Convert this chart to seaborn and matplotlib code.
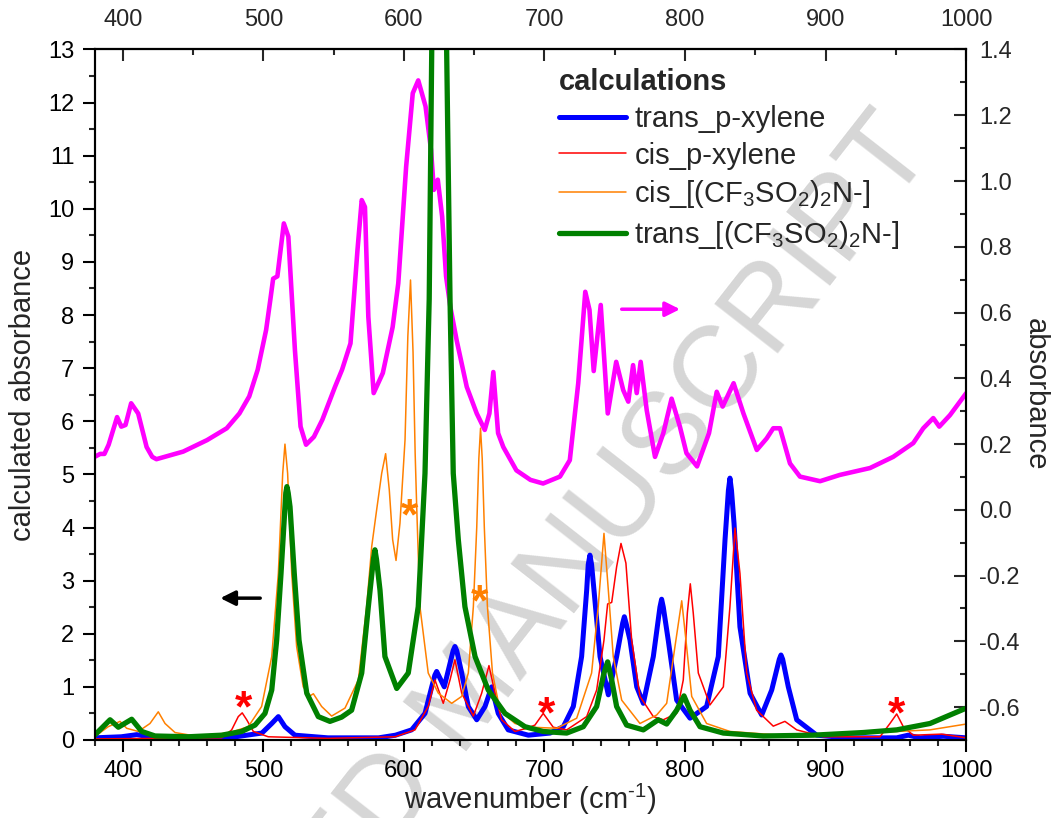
import matplotlib
matplotlib.use("Agg")
import matplotlib.pyplot as plt
import seaborn as sns
import pandas as pd
from matplotlib.ticker import MultipleLocator, FixedLocator

# ---------------- data ----------------
# trans_p-xylene (left axis, calculated absorbance)
blue_x = [380, 399, 410, 423, 475, 499, 506, 510.7, 515.4, 522.5,
          546, 582, 594, 605.5, 615, 619.8, 622, 623.3, 624.6, 628.7,
          635, 636.3, 637.6, 641.1, 645.8, 651.8, 657.7, 662.4, 667.1, 674.2,
          688.5, 704, 713.4, 720.5, 726.4, 730, 731.1, 732.3, 733.5, 735.2,
          739.5, 745.4, 751.3, 755.6, 756.8, 758, 760.8, 765.6, 770.3, 777.4,
          782.1, 783.3, 784.5, 788, 794, 803.5, 815.3, 823.6, 828.4, 830.8,
          831.9, 833, 834.8, 839, 846.2, 854.5, 861.6, 867, 868.2, 869.4,
          873.4, 879.4, 893.6, 915, 950.5, 958.7, 967, 983.6, 1000]
blue_y = [0.04, 0.06, 0.10, 0.04, 0.04, 0.13, 0.31, 0.44, 0.25, 0.09,
          0.04, 0.04, 0.09, 0.19, 0.50, 1.00, 1.22, 1.29, 1.22, 1.00,
          1.68, 1.76, 1.68, 1.26, 0.63, 0.38, 0.63, 1.00, 0.50, 0.19,
          0.09, 0.13, 0.25, 0.63, 1.57, 2.82, 3.30, 3.48, 3.30, 2.82,
          1.57, 0.85, 1.57, 2.20, 2.32, 2.20, 1.88, 1.00, 0.69, 1.57,
          2.50, 2.65, 2.50, 1.88, 0.75, 0.41, 0.63, 1.57, 3.77, 4.70,
          4.93, 4.70, 4.08, 2.13, 0.88, 0.47, 0.94, 1.52, 1.60, 1.52,
          1.00, 0.38, 0.09, 0.04, 0.04, 0.09, 0.04, 0.07, 0.04]

# cis_p-xylene
red_x = [380, 470.4, 477.5, 482.2, 485, 488.2, 492.9, 503.5, 546, 593.7,
         607.9, 617.3, 622.1, 628, 632.8, 636.3, 641.1, 649.4, 655.3, 660.5,
         664.8, 669.5, 679, 687.3, 693.2, 699.1, 706.2, 715.8, 730, 737.1,
         742.3, 744.9, 747.8, 751.3, 754.4, 757.9, 762, 767.9, 777.4, 784.5,
         794, 798.7, 801.6, 803.7, 805.8, 809.4, 817.7, 827.2, 831.9, 835.5,
         839, 843.8, 850.9, 862.7, 871, 879.4, 898.3, 938.6, 945.7, 950.5,
         955.2, 962.3, 982.5, 1000]
red_y = [0.02, 0.04, 0.19, 0.44, 0.51, 0.38, 0.16, 0.06, 0.03, 0.06,
         0.19, 0.63, 1.13, 0.69, 1.13, 1.51, 0.88, 0.45, 0.88, 1.40,
         0.88, 0.38, 0.16, 0.22, 0.28, 0.50, 0.24, 0.19, 0.44, 0.94,
         1.88, 2.56, 2.59, 3.26, 3.70, 3.33, 1.88, 0.82, 0.44, 0.38,
         0.50, 1.13, 2.39, 2.94, 2.39, 1.26, 0.66, 1.00, 2.51, 3.99,
         3.14, 1.26, 0.56, 0.26, 0.35, 0.19, 0.06, 0.06, 0.31, 0.49,
         0.25, 0.09, 0.11, 0.04]

# cis_[(CF3SO2)2N-]
orange_x = [380, 389.7, 398.1, 402.8, 411.1, 419.4, 425.3, 430.1, 437.2, 451.4,
            475.1, 489.3, 498.8, 506, 510.7, 513.8, 515.4, 517.3, 520.2, 523.7,
            528.4, 533.2, 535.6, 541.5, 548.6, 558.1, 567.6, 573.5, 577.1, 580.6,
            584.2, 587, 589.6, 592, 594.4, 597.2, 600.8, 602.8, 604.7, 606.5,
            608, 609.1, 611.4, 617.3, 624.5, 634, 641.1, 645.8, 649.4, 651.8,
            653.3, 654.5, 655.7, 657.2, 659.4, 663, 668.3, 679, 690.9, 708.7,
            722.9, 733.5, 738.2, 742.3, 745.4, 748.9, 754.9, 767.9, 779.8, 786.9,
            792.8, 797.6, 800.6, 804.7, 815.3, 831.9, 867.5, 926.7, 974.2, 1000]
orange_y = [0.06, 0.25, 0.35, 0.22, 0.16, 0.31, 0.53, 0.31, 0.14, 0.075,
            0.13, 0.25, 0.63, 1.57, 3.14, 5.02, 5.57, 5.02, 3.14, 1.76,
            1.00, 0.83, 0.87, 0.63, 0.45, 0.60, 1.13, 2.51, 3.64, 4.33,
            5.02, 5.39, 4.71, 3.77, 3.38, 4.08, 5.65, 7.60, 8.66, 7.30,
            5.40, 4.39, 2.51, 1.26, 0.88, 0.69, 0.82, 1.26, 2.51, 4.00,
            5.30, 5.87, 5.30, 4.00, 2.51, 1.26, 0.56, 0.31, 0.24, 0.22,
            0.41, 1.26, 2.51, 3.89, 2.82, 1.57, 0.75, 0.31, 0.47, 0.69,
            1.76, 2.62, 1.88, 0.82, 0.31, 0.16, 0.09, 0.13, 0.19, 0.30]

# trans_[(CF3SO2)2N-]  (the 625 cm-1 band runs far above the frame)
green_x = [380, 391, 396.9, 406.4, 413.5, 423, 446.6, 470.4, 484.6, 494.1,
           501.2, 506, 509.5, 512.6, 515.4, 516, 516.8, 517.7, 519, 522,
           525.4, 530.9, 539.1, 547.4, 555.7, 562.8, 570, 574.7, 578.3, 579.4,
           580.5, 583, 586.5, 594.9, 603.1, 610.2, 615, 618, 619.8, 622,
           625, 628, 630.4, 632.8, 635.1, 638.7, 643.4, 650.6, 660, 671.9,
           686.1, 699, 715.8, 727.6, 737.1, 742.3, 744.9, 747.8, 751.3, 758.4,
           770.3, 780.9, 786.9, 794, 799.2, 803.5, 810.6, 827.2, 855.6, 891.2,
           926.7, 950.5, 974.2, 1000]
green_y = [0.09, 0.38, 0.24, 0.39, 0.16, 0.075, 0.06, 0.09, 0.16, 0.28,
           0.50, 0.94, 1.88, 3.14, 4.39, 4.65, 4.77, 4.65, 4.39, 3.14,
           1.88, 0.88, 0.44, 0.35, 0.43, 0.56, 1.26, 2.51, 3.40, 3.58,
           3.40, 2.82, 1.57, 0.97, 1.26, 2.51, 5.02, 8.30, 13.0, 20.0,
           30.0, 20.0, 13.0, 8.30, 5.02, 3.77, 2.51, 1.57, 0.94, 0.50,
           0.25, 0.16, 0.13, 0.25, 0.63, 1.26, 1.47, 1.13, 0.63, 0.28,
           0.19, 0.38, 0.30, 0.56, 0.83, 0.56, 0.25, 0.13, 0.075, 0.09,
           0.14, 0.19, 0.31, 0.60]

# measured spectrum (right axis, absorbance)
meas_x = [380, 384, 387, 390, 396, 399, 402, 406, 411, 417,
          421, 424, 443, 460, 474, 483, 490, 496, 502, 505,
          507, 510, 514.6, 517.8, 522.5, 526.5, 530.4, 536, 542, 551,
          556, 562, 567, 570, 572.3, 574.7, 578.5, 585, 592, 596,
          601.6, 606.3, 610.2, 615.4, 619.3, 621.3, 624.1, 627.2, 630, 633,
          637.5, 644.7, 651.8, 657.5, 660.8, 663.6, 667, 670.7, 680, 690,
          699, 711, 718, 724, 729, 732, 735, 740, 745, 751,
          756, 759.6, 763, 765.6, 768.4, 772.7, 778.6, 784.5, 790.4, 796.3,
          801, 808.5, 817, 822.5, 826.7, 834.5, 841.5, 851, 858, 862.7,
          867.5, 874.6, 881.7, 896, 910, 931.5, 948, 962.3, 969.4, 976.5,
          980.8, 988.4, 1000]
meas_y = [0.161, 0.170, 0.170, 0.198, 0.282, 0.253, 0.258, 0.324, 0.293, 0.191,
          0.161, 0.154, 0.177, 0.212, 0.248, 0.293, 0.345, 0.426, 0.547, 0.639,
          0.703, 0.710, 0.871, 0.831, 0.485, 0.253, 0.198, 0.222, 0.274, 0.374,
          0.426, 0.506, 0.791, 0.942, 0.921, 0.587, 0.355, 0.416, 0.556, 0.689,
          1.044, 1.267, 1.306, 1.227, 1.094, 0.973, 1.004, 0.892, 0.710, 0.618,
          0.516, 0.374, 0.293, 0.243, 0.293, 0.419, 0.233, 0.191, 0.120, 0.091,
          0.080, 0.101, 0.151, 0.385, 0.663, 0.608, 0.422, 0.623, 0.293, 0.450,
          0.364, 0.329, 0.440, 0.355, 0.450, 0.303, 0.161, 0.233, 0.338, 0.253,
          0.172, 0.132, 0.233, 0.359, 0.314, 0.385, 0.293, 0.182, 0.217, 0.248,
          0.248, 0.141, 0.101, 0.087, 0.106, 0.127, 0.161, 0.203, 0.248, 0.279,
          0.253, 0.288, 0.355]

labels = ["trans_p-xylene", "cis_p-xylene",
          "cis_[(CF$_3$SO$_2$)$_2$N-]", "trans_[(CF$_3$SO$_2$)$_2$N-]"]

x_ticks = [400, 500, 600, 700, 800, 900, 1000]

# asterisk marks (position of mark centres, left-axis units)
red_star_x = [485.8, 701.5, 950.5]
red_star_y = [0.82, 0.72, 0.72]
orange_star_x = [603.8, 654.1]
orange_star_y = [4.44, 2.82]

# ---------------- style ----------------
sns.set_theme(style="ticks")
plt.rcParams["font.family"] = ["Liberation Sans", "DejaVu Sans"]
plt.rcParams["mathtext.fontset"] = "custom"
plt.rcParams["mathtext.rm"] = "Liberation Sans"
plt.rcParams["mathtext.it"] = "Liberation Sans:italic"
plt.rcParams["mathtext.bf"] = "Liberation Sans:bold"
plt.rcParams["mathtext.default"] = "regular"

fig = plt.figure(figsize=(10.51, 8.18), dpi=100)
fig.patch.set_facecolor("white")

# watermark behind everything (partly outside the page, as in the original)
fig.text(0.446, 0.146, "ACCEPTED MANUSCRIPT", rotation=52, fontsize=84,
         color="#d6d6d6", ha="center", va="center", zorder=-5)

ax = fig.add_axes([0.0900, 0.0954, 0.8294, 0.8441])
ax.set_facecolor("none")

series = [(blue_x, blue_y, "#0000FF", 3.6),
          (red_x, red_y, "#FF0000", 1.1),
          (orange_x, orange_y, "#FF8000", 1.1),
          (green_x, green_y, "#008000", 3.8)]
for (xs, ys, col, lw), lab in zip(series, labels):
    df = pd.DataFrame({"x": xs, "y": ys})
    sns.lineplot(data=df, x="x", y="y", ax=ax, color=col, linewidth=lw,
                 label=lab, estimator=None, sort=False)

ax.set_xlim(380, 1000)
ax.set_ylim(0, 13)
ax.xaxis.set_major_locator(FixedLocator(x_ticks))
ax.xaxis.set_minor_locator(MultipleLocator(20))
ax.yaxis.set_major_locator(MultipleLocator(1))
ax.yaxis.set_minor_locator(MultipleLocator(0.5))
ax.tick_params(axis="both", which="major", direction="out", length=8.5,
               width=1.5, labelsize=17, pad=6, colors="black")
ax.tick_params(axis="both", which="minor", direction="out", length=4.5,
               width=1.5)
ax.tick_params(axis="y", right=False)
ax.tick_params(axis="x", top=False)
ax.set_xlabel("wavenumber (cm$^{\\text{-}1}$)", fontsize=21, labelpad=0)
ax.set_ylabel("calculated absorbance", fontsize=21, labelpad=8)
for sp in ax.spines.values():
    sp.set_linewidth(1.5)
    sp.set_color("black")
    sp.set_visible(True)

# top axis
sec = ax.secondary_xaxis("top")
sec.xaxis.set_major_locator(FixedLocator(x_ticks))
sec.xaxis.set_minor_locator(FixedLocator([400, 450, 500, 550, 600, 650, 700,
                                          750, 800, 850, 900, 950, 1000]))
sec.tick_params(which="major", direction="in", length=8.5, width=1.5,
                labelsize=17, pad=13)
sec.tick_params(which="minor", direction="in", length=4.5, width=1.5)
sec.spines["top"].set_linewidth(1.5)

# right axis with measured spectrum
ax2 = ax.twinx()
ax2.set_facecolor("none")
sns.lineplot(x=meas_x, y=meas_y, ax=ax2, color="#FF00FF", linewidth=3.3,
             estimator=None, sort=False, legend=False)
ax2.set_ylim(-0.7, 1.4)
ax2.yaxis.set_major_locator(FixedLocator([-0.6, -0.4, -0.2, 0.0, 0.2, 0.4,
                                          0.6, 0.8, 1.0, 1.2, 1.4]))
ax2.yaxis.set_minor_locator(MultipleLocator(0.1))
ax2.yaxis.set_major_formatter(plt.FuncFormatter(lambda v, p: f"{v:.1f}"))
ax2.tick_params(axis="y", which="major", direction="in", length=8.5,
                width=1.5, labelsize=17, pad=9)
ax2.tick_params(axis="y", which="minor", direction="in", length=4.5, width=1.5)
ax2.set_ylabel("absorbance", fontsize=21, rotation=270, labelpad=22)
for sp in ax2.spines.values():
    sp.set_linewidth(1.5)

# legend
leg = ax.legend(loc="upper left", bbox_to_anchor=(0.533, 0.973), frameon=False,
                fontsize=21, title="calculations",
                title_fontproperties={"weight": "bold", "size": 21},
                alignment="left", handlelength=2.3, handletextpad=0.28,
                labelspacing=0.3, borderpad=0, borderaxespad=0)
ax.set_zorder(ax2.get_zorder() + 1)

# arrows
ax.annotate("", xy=(469.4, 2.67), xytext=(497.8, 2.67),
            arrowprops=dict(arrowstyle="-|>", color="black", lw=2.5,
                            mutation_scale=22, shrinkA=0, shrinkB=0))
ax.annotate("", xy=(796.4, 8.11), xytext=(754.9, 8.11),
            arrowprops=dict(arrowstyle="-|>", color="#FF00FF", lw=2.5,
                            mutation_scale=22, shrinkA=0, shrinkB=0))

# asterisks
for sx, sy in zip(red_star_x, red_star_y):
    ax.annotate("*", xy=(sx, sy), xytext=(0, -10), textcoords="offset points",
                ha="center", va="center", fontsize=32, fontweight="bold",
                color="#FF0000")
for sx, sy in zip(orange_star_x, orange_star_y):
    ax.annotate("*", xy=(sx, sy), xytext=(0, -10), textcoords="offset points",
                ha="center", va="center", fontsize=32, fontweight="bold",
                color="#FF8000")

fig.savefig("out.png", dpi=100, facecolor="white")
